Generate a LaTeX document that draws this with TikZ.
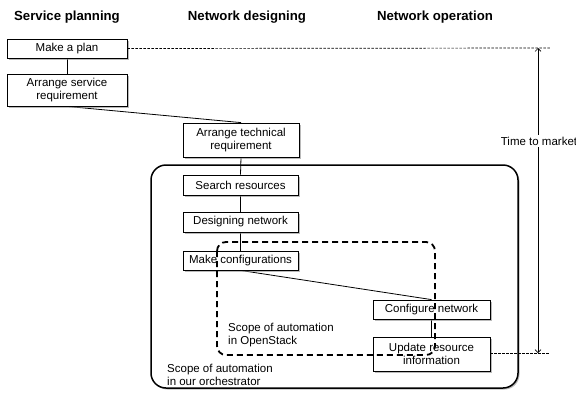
\documentclass[tikz,border=0pt]{standalone}
\usepackage{fontspec}
\setmainfont{Liberation Sans}
\usetikzlibrary{shadows,arrows.meta,backgrounds}
\begin{document}
\begin{tikzpicture}[x=1pt,y=-1pt,
  box/.style={draw, fill=white, line width=0.8pt, align=center, inner sep=0pt,
    font=\fontsize{11.5}{13}\selectfont,
    drop shadow={shadow xshift=1.5pt, shadow yshift=-1.5pt, fill=black!45, opacity=.6}},
  title/.style={font=\fontsize{13.2}{15}\selectfont\bfseries},
  lbl/.style={font=\fontsize{11.5}{13.5}\selectfont, align=left, inner sep=0pt},
  conn/.style={line width=0.8pt},
  guide/.style={line width=0.7pt, dash pattern=on 2.5pt off 1.5pt},
  scopebox/.style={line width=1.5pt, rounded corners=15pt, fill=white,
    drop shadow={shadow xshift=1.5pt, shadow yshift=-1.5pt, fill=black!45, opacity=.6}},
  autobox/.style={line width=1.8pt, dash pattern=on 6pt off 4pt, rounded corners=9pt},
  ttm/.style={line width=0.6pt, {Straight Barb[length=3pt,width=6pt]}-{Straight Barb[length=3pt,width=6pt]}}
]
\useasboundingbox (0,0) rectangle (576,394);

% titles
\node[title] (t1) at (67,17) {Service planning};
\node[title] (t2) at (247,17) {Network designing};
\node[title] (t3) at (435,17) {Network operation};

% boxes
\node[box, minimum width=120pt, minimum height=19pt] (plan) at (67,48.5) {Make a plan};
\node[box, minimum width=120pt, minimum height=32pt] (svc) at (67,90) {Arrange service\\requirement};
\node[box, minimum width=116pt, minimum height=34pt] (tech) at (241,140) {Arrange technical\\requirement};
\node[box, minimum width=115pt, minimum height=20pt] (search) at (240.5,185) {Search resources};
\node[box, minimum width=115pt, minimum height=20pt] (design) at (240.5,222) {Designing network};
\node[box, minimum width=115pt, minimum height=19pt] (config) at (240.5,260.5) {Make configurations};
\node[box, minimum width=117pt, minimum height=19pt] (confnet) at (431.5,309.5) {Configure network};
\node[box, minimum width=117pt, minimum height=34pt] (update) at (431.5,354) {Update resource\\information};

\begin{scope}[on background layer]
  \draw[scopebox] (151,165) rectangle (518,388);
  \draw[conn] (plan.south) -- (svc.north);
  \draw[conn] (svc.south) -- (tech.north);
  \draw[conn] (tech.south) -- (search.north);
  \draw[conn] (search.south) -- (design.north);
  \draw[conn] (design.south) -- (config.north);
  \draw[conn] (config.south) -- (confnet.north);
  \draw[conn] (confnet.south) -- (update.north);
\end{scope}

% scope of OpenStack automation
\draw[autobox] (217,242) rectangle (435,355);

% labels
\node[lbl, anchor=north west] (los) at (228,322.5) {Scope of automation\\in OpenStack};
\node[lbl, anchor=north west] (lorch) at (167,363.5) {Scope of automation\\in our orchestrator};

% time to market
\coordinate (gt) at (550,48);
\coordinate (gb) at (550,353);
\coordinate (at) at (538,48);
\coordinate (ab) at (538,353);
\draw[guide] (plan.east) -- (gt);
\draw[guide] (update.east |- ab) -- (gb);
\draw[ttm] (at) -- (ab);
\node[fill=white, inner sep=1.5pt, font=\fontsize{11.5}{13}\selectfont] (ttml) at (539,141) {Time to market};
\end{tikzpicture}
\end{document}
